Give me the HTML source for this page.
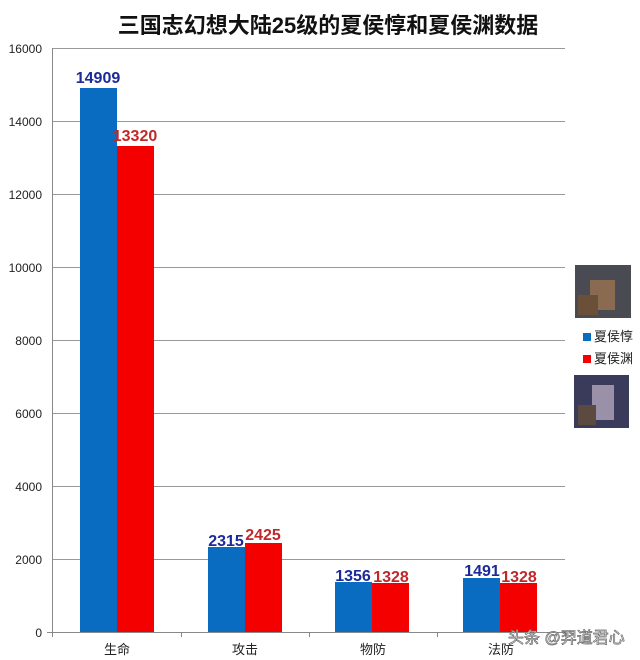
<!DOCTYPE html>
<html><head><meta charset="utf-8"><style>
html,body{margin:0;padding:0;background:#fff;}
svg{display:block;font-family:"Liberation Sans","Noto Sans CJK SC",sans-serif;}
</style></head><body>
<svg width="640" height="660" xmlns="http://www.w3.org/2000/svg">
<rect width="640" height="660" fill="#fff"/>
<text x="328" y="33" text-anchor="middle" font-size="22" font-weight="bold" fill="#111">三国志幻想大陆25级的夏侯惇和夏侯渊数据</text>
<g stroke="#999" stroke-width="1">
<line x1="52" y1="48.5" x2="565" y2="48.5"/>
<line x1="52" y1="121.5" x2="565" y2="121.5"/>
<line x1="52" y1="194.5" x2="565" y2="194.5"/>
<line x1="52" y1="267.5" x2="565" y2="267.5"/>
<line x1="52" y1="340.5" x2="565" y2="340.5"/>
<line x1="52" y1="413.5" x2="565" y2="413.5"/>
<line x1="52" y1="486.5" x2="565" y2="486.5"/>
<line x1="52" y1="559.5" x2="565" y2="559.5"/>
</g>
<g stroke="#888" stroke-width="1">
<line x1="52.5" y1="48" x2="52.5" y2="637"/>
<line x1="47" y1="632.5" x2="565" y2="632.5"/>
<line x1="181.5" y1="632" x2="181.5" y2="637"/>
<line x1="309.5" y1="632" x2="309.5" y2="637"/>
<line x1="437.5" y1="632" x2="437.5" y2="637"/>
<line x1="565.5" y1="632" x2="565.5" y2="637"/>
</g>
<g font-size="12" fill="#222" text-anchor="end">
<text x="42" y="53">16000</text><text x="42" y="126">14000</text><text x="42" y="199">12000</text>
<text x="42" y="272">10000</text><text x="42" y="345">8000</text><text x="42" y="418">6000</text>
<text x="42" y="491">4000</text><text x="42" y="564">2000</text><text x="42" y="637">0</text>
</g>
<g>
<rect x="80" y="88" width="37" height="544" fill="#0a6cc0"/>
<rect x="117" y="146" width="37" height="486" fill="#f50000"/>
<rect x="208" y="547" width="37" height="85" fill="#0a6cc0"/>
<rect x="245" y="543" width="37" height="89" fill="#f50000"/>
<rect x="335" y="582" width="37" height="50" fill="#0a6cc0"/>
<rect x="372" y="583" width="37" height="49" fill="#f50000"/>
<rect x="463" y="578" width="37" height="54" fill="#0a6cc0"/>
<rect x="500" y="583" width="37" height="49" fill="#f50000"/>
</g>
<g font-size="16" font-weight="bold" text-anchor="middle">
<text x="98" y="83" fill="#1a2a9a">14909</text>
<text x="135" y="141" fill="#c0282a">13320</text>
<text x="226" y="546" fill="#1a2a9a">2315</text>
<text x="263" y="540" fill="#c0282a">2425</text>
<text x="353" y="581" fill="#1a2a9a">1356</text>
<text x="391" y="582" fill="#c0282a">1328</text>
<text x="482" y="576" fill="#1a2a9a">1491</text>
<text x="519" y="582" fill="#c0282a">1328</text>
</g>
<g font-size="13" fill="#222" text-anchor="middle">
<text x="117" y="654">生命</text><text x="245" y="654">攻击</text>
<text x="373" y="654">物防</text><text x="501" y="654">法防</text>
</g>
<text x="508" y="643" font-size="16" fill="#fff" stroke="#666" stroke-width="0.7">头条 @羿道君心</text>
<rect x="575" y="265" width="56" height="53" fill="#4a4a52"/>
<rect x="590" y="280" width="25" height="30" fill="#8a6a50"/>
<rect x="578" y="295" width="20" height="20" fill="#6a5038"/>
<rect x="574" y="375" width="55" height="53" fill="#3a3a5a"/>
<rect x="592" y="385" width="22" height="35" fill="#9a90a8"/>
<rect x="578" y="405" width="18" height="20" fill="#5a4a40"/>
<rect x="583" y="333" width="8" height="8" fill="#0a6cc0"/>
<rect x="583" y="355" width="8" height="8" fill="#f50000"/>
<g font-size="13" fill="#222">
<text x="594" y="341">夏侯惇</text><text x="594" y="363">夏侯渊</text>
</g>
</svg>
</body></html>
